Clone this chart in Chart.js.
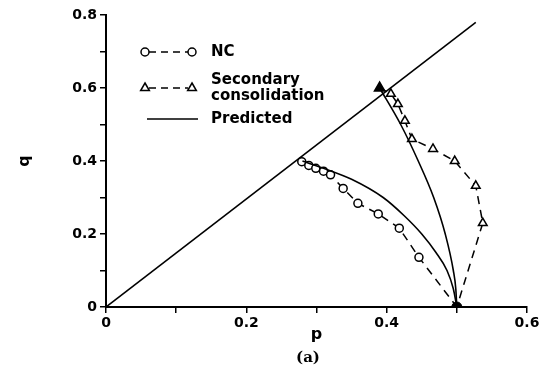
<!DOCTYPE html>
<html>
<head>
<meta charset="utf-8">
<script src="https://cdn.jsdelivr.net/npm/chart.js@4"></script>
<style>
  html, body { margin: 0; padding: 0; background: #fff; }
  #wrap { width: 543px; height: 383px; }
</style>
</head>
<body>
<div id="wrap"><canvas id="chart" width="543" height="383"></canvas></div>
<script>
// ---- data ----
const ncP = [0.279, 0.289, 0.299, 0.31, 0.32, 0.338, 0.359, 0.388, 0.418, 0.446, 0.5];
const ncQ = [0.398, 0.388, 0.38, 0.372, 0.362, 0.325, 0.284, 0.255, 0.216, 0.136, 0];

const secP = [0.39, 0.406, 0.416, 0.426, 0.436, 0.466, 0.497, 0.527, 0.537, 0.5];
const secQ = [0.6, 0.584, 0.556, 0.51, 0.46, 0.433, 0.4, 0.332, 0.23, 0];

// predicted paths (solid curves)
const pred1P = [0.28, 0.31, 0.35, 0.395, 0.425, 0.45, 0.47, 0.486, 0.495, 0.5];
const pred1Q = [0.40, 0.38, 0.35, 0.30, 0.25, 0.20, 0.15, 0.10, 0.05, 0];
const pred2P = [0.39, 0.42, 0.445, 0.467, 0.4835, 0.495, 0.4985, 0.5];
const pred2Q = [0.60, 0.50, 0.40, 0.30, 0.20, 0.10, 0.05, 0];

// critical state line
const cslP = [0, 0.527];
const cslQ = [0, 0.78];

const startP = [0.5];
const startQ = [0];

const xTicks = [0, 0.2, 0.4, 0.6];
const yTicks = [0, 0.2, 0.4, 0.6, 0.8];

const pts = (ps, qs) => ps.map((p, i) => ({ x: p, y: qs[i] }));
const tickFont = { family: 'DejaVu Sans', size: 14, weight: 'bold' };

function tickLabel(v, list) {
  const hit = list.find(t => Math.abs(t - v) < 1e-6);
  if (hit === undefined) return '';
  return hit === 0 ? '0' : hit.toFixed(1);
}

// legend + caption drawn on canvas
const legendPlugin = {
  id: 'figLegend',
  afterDraw(chart) {
    const ctx = chart.ctx;
    ctx.save();
    ctx.strokeStyle = '#000';
    ctx.fillStyle = '#000';
    ctx.lineWidth = 1.5;

    const circle = (x, y) => {
      ctx.beginPath(); ctx.arc(x, y, 4, 0, Math.PI * 2);
      ctx.fillStyle = '#fff'; ctx.fill(); ctx.stroke();
    };
    const tri = (x, y) => {
      const r = 5;
      ctx.beginPath();
      ctx.moveTo(x, y - r);
      ctx.lineTo(x + r * 0.87, y + r * 0.5);
      ctx.lineTo(x - r * 0.87, y + r * 0.5);
      ctx.closePath();
      ctx.fillStyle = '#fff'; ctx.fill(); ctx.stroke();
    };
    const dash = (x1, x2, y) => {
      ctx.setLineDash([7, 5]);
      ctx.beginPath(); ctx.moveTo(x1, y); ctx.lineTo(x2, y); ctx.stroke();
      ctx.setLineDash([]);
    };

    dash(149, 188, 52); circle(145, 52); circle(192, 52);
    dash(149, 188, 88); tri(145, 88); tri(192, 88);
    ctx.beginPath(); ctx.moveTo(147, 119); ctx.lineTo(198, 119); ctx.stroke();

    ctx.fillStyle = '#000';
    ctx.font = 'bold 15px "DejaVu Sans"';
    ctx.textBaseline = 'middle';
    ctx.textAlign = 'left';
    ctx.fillText('NC', 211, 52);
    ctx.fillText('Secondary', 211, 80);
    ctx.fillText('consolidation', 211, 96);
    ctx.fillText('Predicted', 211, 119);

    ctx.font = 'bold 15px "DejaVu Serif"';
    ctx.textAlign = 'center';
    ctx.fillText('(a)', 308, 358);
    ctx.restore();
  }
};

const solid = { borderColor: '#000', borderWidth: 1.6, pointRadius: 0, showLine: true, fill: false };

new Chart(document.getElementById('chart'), {
  type: 'scatter',
  data: {
    datasets: [
      { ...solid, label: 'CSL', data: pts(cslP, cslQ) },
      { ...solid, label: 'Predicted', data: pts(pred1P, pred1Q), cubicInterpolationMode: 'monotone' },
      { ...solid, label: 'Predicted 2', data: pts(pred2P, pred2Q), cubicInterpolationMode: 'monotone' },
      {
        label: 'NC', data: pts(ncP, ncQ), showLine: true,
        borderColor: '#000', borderWidth: 1.5, borderDash: [8, 6],
        pointStyle: 'circle', pointBorderColor: '#000', pointBorderWidth: 1.5,
        pointBackgroundColor: '#fff',
        pointRadius: ncP.map((p, i) => i === ncP.length - 1 ? 0 : 4)
      },
      {
        label: 'Secondary consolidation', data: pts(secP, secQ), showLine: true,
        borderColor: '#000', borderWidth: 1.5, borderDash: [8, 6],
        pointStyle: 'triangle', pointBorderColor: '#000', pointBorderWidth: 1.5,
        pointBackgroundColor: secP.map((p, i) => i === 0 ? '#000' : '#fff'),
        pointRadius: secP.map((p, i) => i === secP.length - 1 ? 0 : (i === 0 ? 6 : 5))
      },
      {
        label: 'start', data: pts(startP, startQ), showLine: false,
        pointStyle: 'circle', pointRadius: 5, pointBackgroundColor: '#000', pointBorderColor: '#000'
      }
    ]
  },
  options: {
    responsive: false,
    animation: false,
    layout: { padding: { top: 15, right: 16, left: 0, bottom: 0 } },
    plugins: { legend: { display: false }, tooltip: { enabled: false } },
    scales: {
      x: {
        type: 'linear', min: 0, max: 0.6,
        afterFit: s => { s.height = 76; },
        ticks: {
          stepSize: 0.1, autoSkip: false, maxRotation: 0, padding: 2,
          color: '#000', font: tickFont,
          callback: v => tickLabel(v, xTicks)
        },
        grid: { drawOnChartArea: false, drawTicks: true, tickLength: 6, color: '#000', lineWidth: 1.5 },
        border: { display: true, color: '#000', width: 2 },
        title: { display: true, text: 'p', color: '#000', font: { family: 'DejaVu Sans', size: 16, weight: 'bold' }, padding: { top: 0, bottom: 39 } }
      },
      y: {
        type: 'linear', min: 0, max: 0.8,
        afterFit: s => { s.width = 106; },
        ticks: {
          stepSize: 0.1, autoSkip: false, padding: 3,
          color: '#000', font: tickFont,
          callback: v => tickLabel(v, yTicks)
        },
        grid: { drawOnChartArea: false, drawTicks: true, tickLength: 6, color: '#000', lineWidth: 1.5 },
        border: { display: true, color: '#000', width: 2 },
        title: { display: true, text: 'q', color: '#000', font: { family: 'DejaVu Sans', size: 16, weight: 'bold' }, padding: { top: 15, bottom: 0 } }
      }
    }
  },
  plugins: [legendPlugin]
});
</script>
</body>
</html>
